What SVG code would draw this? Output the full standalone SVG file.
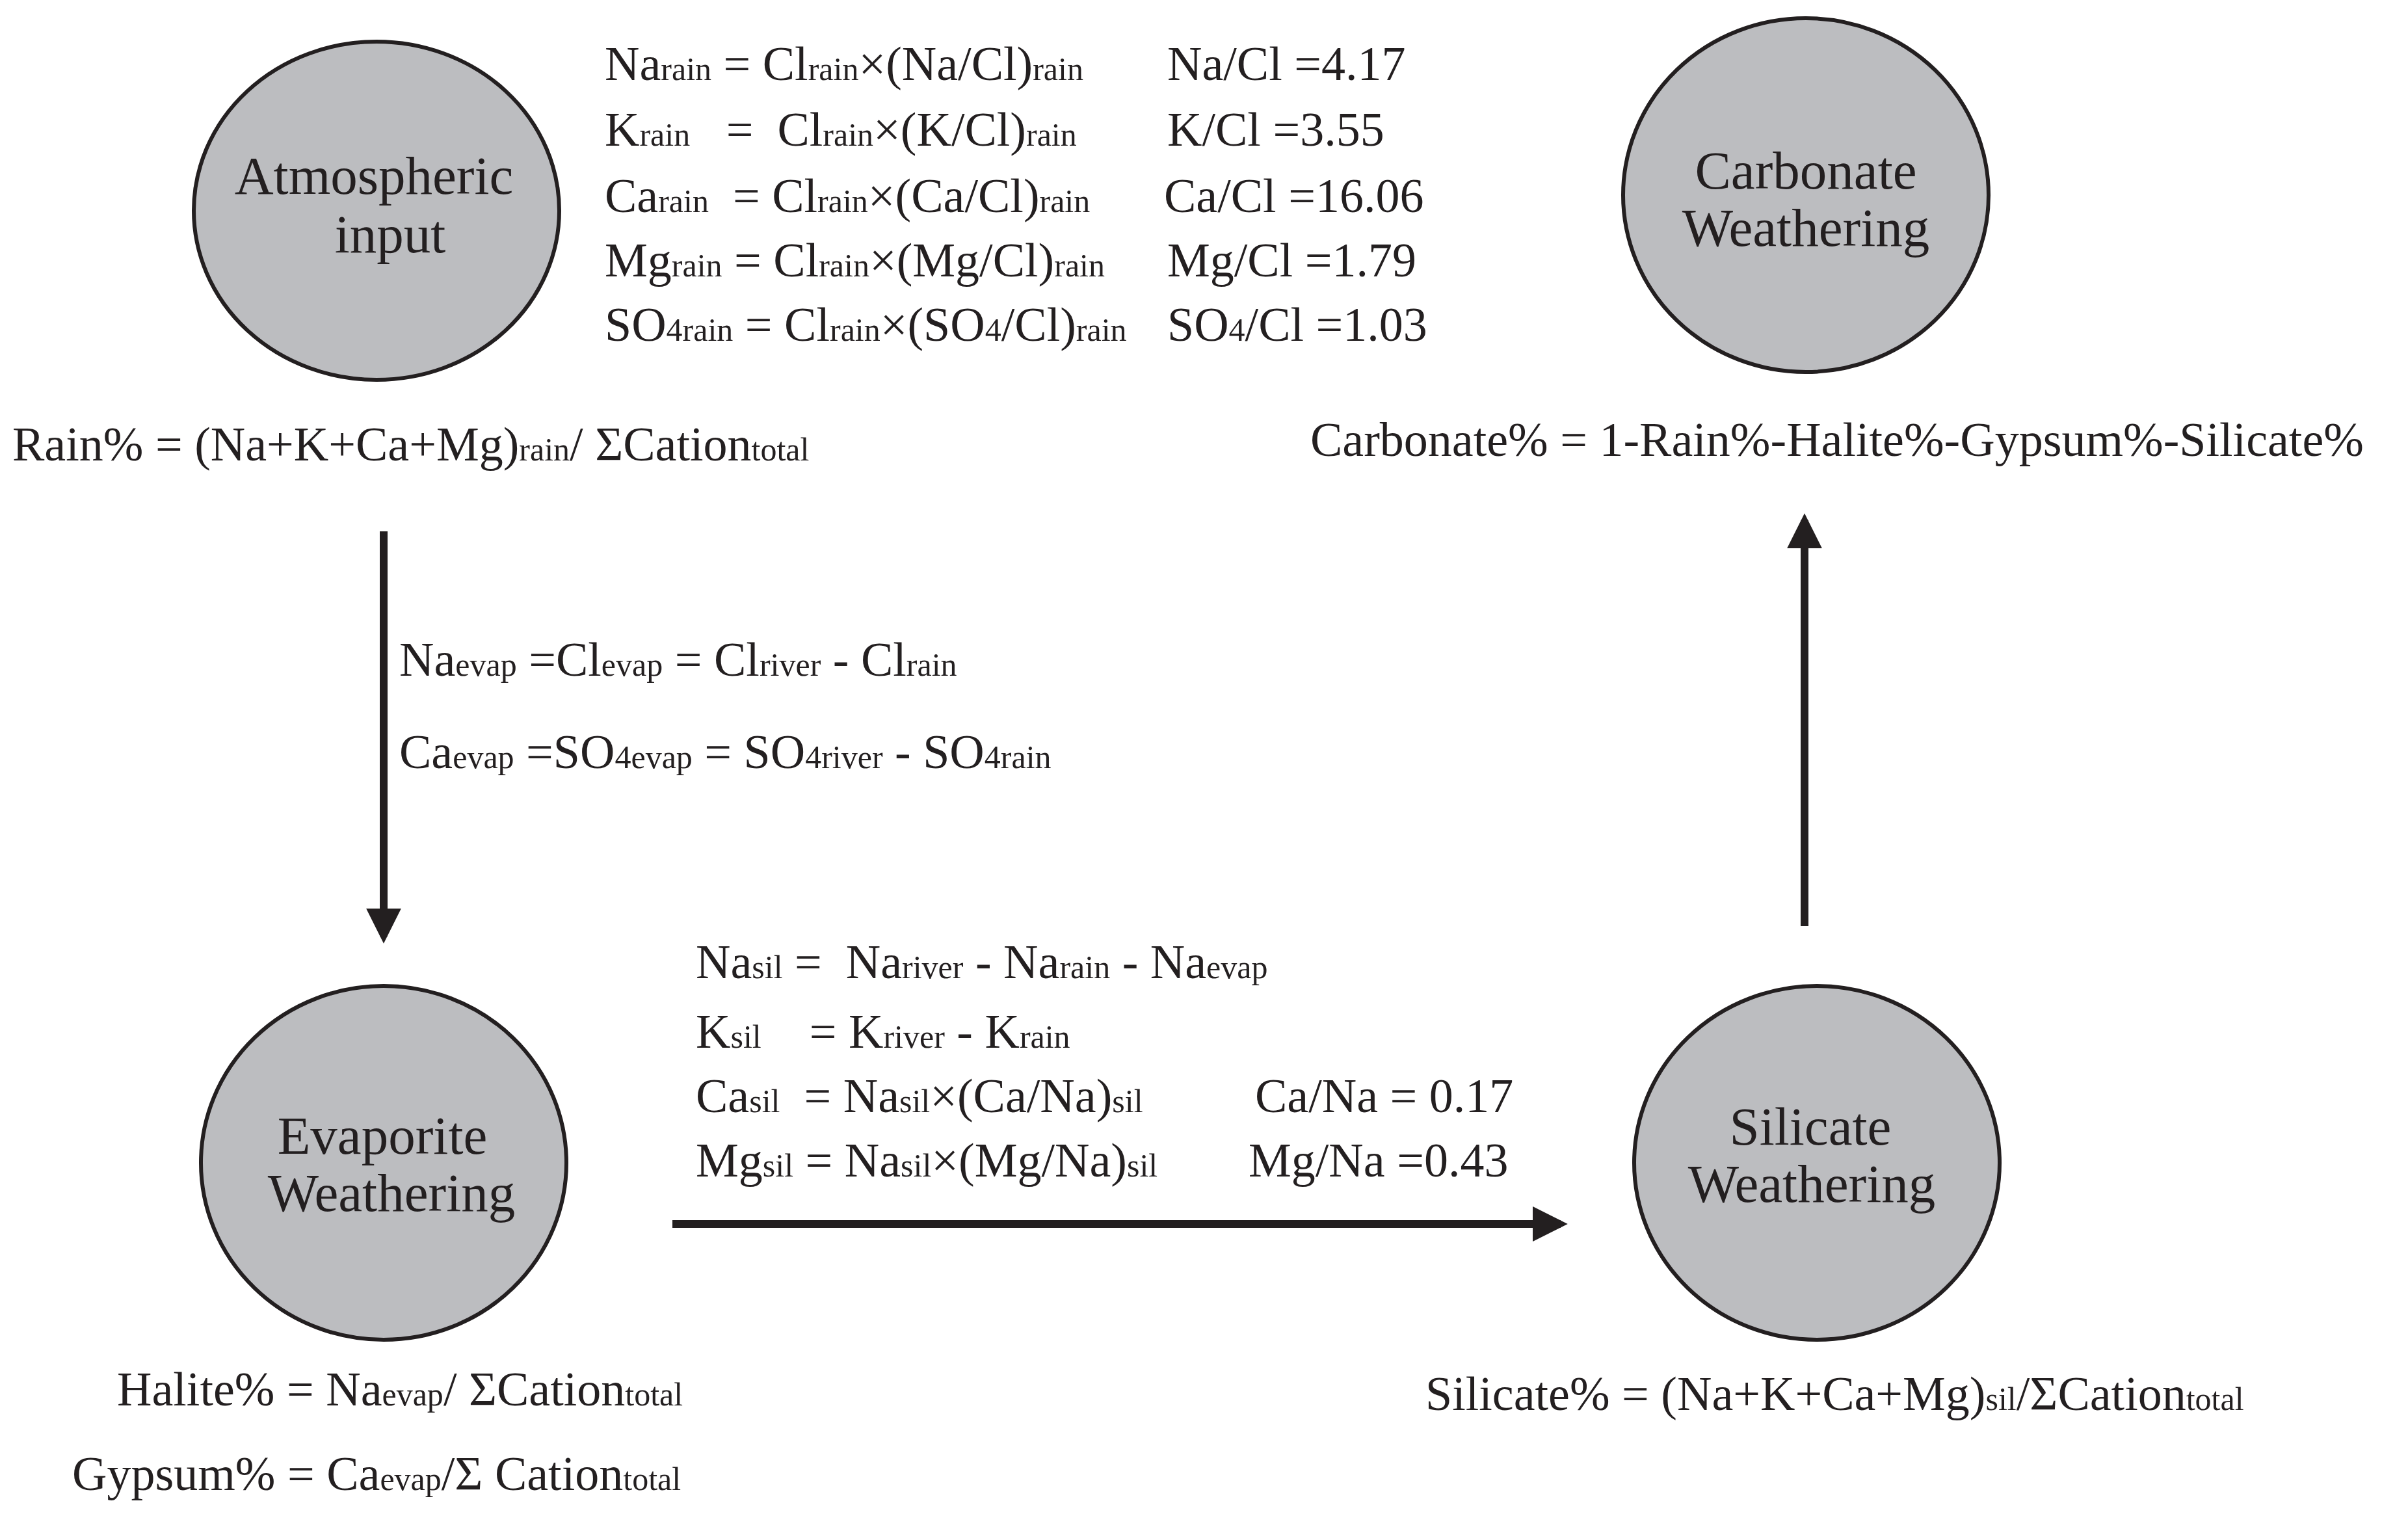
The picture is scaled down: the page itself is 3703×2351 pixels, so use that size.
<svg xmlns="http://www.w3.org/2000/svg" width="3703" height="2351" viewBox="0 0 3703 2351">
<style>
text{font-family:"Liberation Serif","DejaVu Serif",serif;fill:#231f20;white-space:pre}
.eq{font-size:74px}
.s{font-size:50px}
.node{font-size:83px;text-anchor:middle}
ellipse{fill:#bcbdc0;stroke:#231f20;stroke-width:6}
.c{stroke:#231f20;stroke-width:12;fill:none}
</style>
<defs><marker id="ah" viewBox="0 0 10 10" refX="8" refY="5" markerWidth="4.5" markerHeight="5" orient="auto" markerUnits="strokeWidth"><path d="M0,0 L10,5 L0,10 z" fill="#231f20"/></marker></defs>
<rect width="3703" height="2351" fill="#fff"/>
<g id="atm"><ellipse cx="579" cy="324" rx="281" ry="260"/><text class="node" x="575" y="298">Atmospheric</text><text class="node" x="600" y="388">input</text></g>
<g id="carb"><ellipse cx="2777" cy="300" rx="281" ry="272"/><text class="node" x="2777" y="290">Carbonate</text><text class="node" x="2777" y="378">Weathering</text></g>
<g id="evap"><ellipse cx="590" cy="1788" rx="281" ry="272"/><text class="node" x="588" y="1774">Evaporite</text><text class="node" x="602" y="1862">Weathering</text></g>
<g id="sil"><ellipse cx="2794" cy="1788" rx="281" ry="272"/><text class="node" x="2784" y="1760">Silicate</text><text class="node" x="2786" y="1848">Weathering</text></g>
<g id="connectors">
<line class="c" x1="590" y1="817" x2="590" y2="1440" marker-end="url(#ah)"/>
<line class="c" x1="2775" y1="1424" x2="2775" y2="800" marker-end="url(#ah)"/>
<line class="c" x1="1034" y1="1882" x2="2400" y2="1882" marker-end="url(#ah)"/>
</g>
<g id="texts" class="eq">
<text x="930" y="123">Na<tspan class="s">rain</tspan> = Cl<tspan class="s">rain</tspan>×(Na/Cl)<tspan class="s">rain</tspan></text>
<text x="930" y="224">K<tspan class="s">rain</tspan>   =  Cl<tspan class="s">rain</tspan>×(K/Cl)<tspan class="s">rain</tspan></text>
<text x="930" y="326">Ca<tspan class="s">rain</tspan>  = Cl<tspan class="s">rain</tspan>×(Ca/Cl)<tspan class="s">rain</tspan></text>
<text x="930" y="425">Mg<tspan class="s">rain</tspan> = Cl<tspan class="s">rain</tspan>×(Mg/Cl)<tspan class="s">rain</tspan></text>
<text x="930" y="524">SO<tspan class="s">4rain</tspan> = Cl<tspan class="s">rain</tspan>×(SO<tspan class="s">4</tspan>/Cl)<tspan class="s">rain</tspan></text>
<text x="1795" y="123">Na/Cl =4.17</text>
<text x="1795" y="224">K/Cl =3.55</text>
<text x="1790" y="326">Ca/Cl =16.06</text>
<text x="1795" y="425">Mg/Cl =1.79</text>
<text x="1795" y="524">SO<tspan class="s">4</tspan>/Cl =1.03</text>
<text x="19" y="708">Rain% = (Na+K+Ca+Mg)<tspan class="s">rain</tspan>/ ΣCation<tspan class="s">total</tspan></text>
<text x="2015" y="701">Carbonate% = 1-Rain%-Halite%-Gypsum%-Silicate%</text>
<text x="614" y="1039">Na<tspan class="s">evap</tspan> =Cl<tspan class="s">evap</tspan> = Cl<tspan class="s">river</tspan> - Cl<tspan class="s">rain</tspan></text>
<text x="614" y="1181">Ca<tspan class="s">evap</tspan> =SO<tspan class="s">4evap</tspan> = SO<tspan class="s">4river</tspan> - SO<tspan class="s">4rain</tspan></text>
<text x="1070" y="1504">Na<tspan class="s">sil</tspan> =  Na<tspan class="s">river</tspan> - Na<tspan class="s">rain</tspan> - Na<tspan class="s">evap</tspan></text>
<text x="1070" y="1611">K<tspan class="s">sil</tspan>    = K<tspan class="s">river</tspan> - K<tspan class="s">rain</tspan></text>
<text x="1070" y="1710">Ca<tspan class="s">sil</tspan>  = Na<tspan class="s">sil</tspan>×(Ca/Na)<tspan class="s">sil</tspan></text>
<text x="1070" y="1809">Mg<tspan class="s">sil</tspan> = Na<tspan class="s">sil</tspan>×(Mg/Na)<tspan class="s">sil</tspan></text>
<text x="1930" y="1710">Ca/Na = 0.17</text>
<text x="1920" y="1809">Mg/Na =0.43</text>
<text x="180" y="2161">Halite% = Na<tspan class="s">evap</tspan>/ ΣCation<tspan class="s">total</tspan></text>
<text x="111" y="2291">Gypsum% = Ca<tspan class="s">evap</tspan>/Σ Cation<tspan class="s">total</tspan></text>
<text x="2192" y="2168">Silicate% = (Na+K+Ca+Mg)<tspan class="s">sil</tspan>/ΣCation<tspan class="s">total</tspan></text>
</g>
</svg>
